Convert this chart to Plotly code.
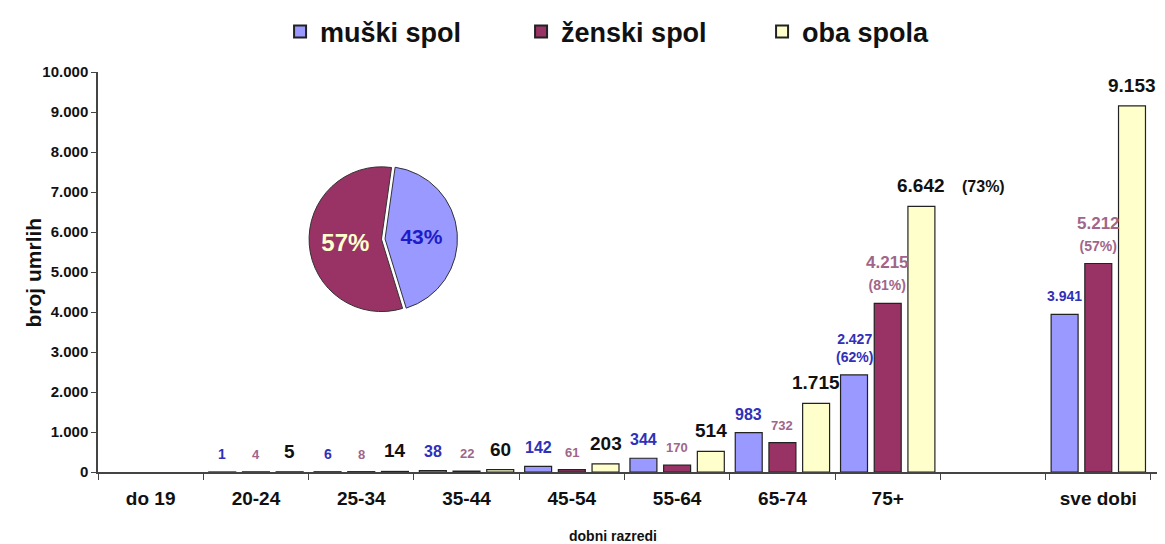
import plotly.graph_objects as go

categories = ["do 19", "20-24", "25-34", "35-44", "45-54", "55-64", "65-74", "75+", " ", "sve dobi"]
male = [None, 1, 6, 38, 142, 344, 983, 2427, None, 3941]
female = [None, 4, 8, 22, 61, 170, 732, 4215, None, 5212]
both = [None, 5, 14, 60, 203, 514, 1715, 6642, None, 9153]
male_pct = {"75+": 62}
female_pct = {"75+": 81, "sve dobi": 57}
both_pct = {"75+": 73}
series_names = ["muški spol", "ženski spol", "oba spola"]
pie_labels = ["muški spol", "ženski spol"]
pie_values = [3941, 5212]

colors = ["#9999FF", "#993366", "#FFFFCC"]
label_colors = ["#3030B8", "#A0668A", "#111111"]
FONT = "Liberation Sans, Arial, sans-serif"

fig = go.Figure()
for name, vals, col in zip(series_names, [male, female, both], colors):
    fig.add_trace(go.Bar(
        x=categories, y=vals, name=name,
        marker=dict(color=col, line=dict(color="#222222", width=1.2)),
    ))

fig.add_trace(go.Pie(
    labels=pie_labels, values=pie_values, sort=False, direction="clockwise",
    rotation=8, pull=[0.05, 0], showlegend=False,
    marker=dict(colors=["#9999FF", "#993366"], line=dict(color="#333333", width=1)),
    textinfo="percent", texttemplate="%{percent:.0%}", textposition="inside",
    insidetextorientation="horizontal",
    textfont=dict(family=FONT, size=[21, 24], color=["#1C1CC8", "#FFFFCC"], weight="bold"),
    domain=dict(x=[0.1924, 0.3424], y=[0.392, 0.772]),
    hoverinfo="skip",
))


def fmt(v):
    return f"{v:,}".replace(",", ".")


offsets = [-0.32, 0.0, 0.32]
annotations = []
for j, (vals, pcts) in enumerate(zip([male, female, both], [male_pct, female_pct, both_pct])):
    for i, (cat, v) in enumerate(zip(categories, vals)):
        if not v:
            continue
        if j == 0:
            size = 16 if 10 <= v < 2000 else 14
        elif j == 1:
            size = 17 if v > 4000 else 13
        else:
            size = 19
        text = fmt(v)
        if cat in pcts and j < 2:
            text += f"<br><span style='font-size:14px'>({pcts[cat]}%)</span>"
        annotations.append(dict(
            x=i + offsets[j], y=v, xref="x", yref="y", text=text,
            showarrow=False, yanchor="bottom", xanchor="center", yshift=8,
            font=dict(family=FONT, size=size, color=label_colors[j], weight="bold"),
        ))
        if cat in pcts and j == 2:
            annotations.append(dict(
                x=i + offsets[j], y=v, xref="x", yref="y", text=f"({pcts[cat]}%)",
                showarrow=False, yanchor="bottom", xanchor="left", xshift=39, yshift=9,
                font=dict(family=FONT, size=16, color=label_colors[j], weight="bold"),
            ))

annotations.append(dict(
    x=-0.0736, y=0.5, xref="paper", yref="paper", text="broj umrlih", textangle=-90,
    showarrow=False, font=dict(family=FONT, size=21, color="#111111", weight="bold"),
))
annotations.append(dict(
    x=0.486, y=-0.16, xref="paper", yref="paper", text="dobni razredi",
    showarrow=False, yanchor="middle",
    font=dict(family=FONT, size=14, color="#111111", weight="bold"),
))

fig.update_layout(
    width=1157, height=536,
    margin=dict(l=90, r=7, t=64, b=72, autoexpand=False),
    paper_bgcolor="white", plot_bgcolor="white",
    separators=",.",
    barmode="group", bargap=0.04, bargroupgap=0.2,
    font=dict(family=FONT, color="#111111"),
    legend=dict(
        orientation="h", x=0.5128, xanchor="center", y=1.1, yanchor="middle",
        font=dict(family=FONT, size=27, color="#111111", weight="bold"),
        entrywidth=196, itemsizing="constant",
    ),
    annotations=annotations,
    xaxis=dict(
        type="category", tickson="boundaries", ticks="outside", ticklen=6,
        tickcolor="#444444", showline=True, linecolor="#444444", linewidth=1.5,
        showgrid=False, tickfont=dict(family=FONT, size=19, color="#111111", weight="bold"),
        ticklabelstandoff=8,
    ),
    yaxis=dict(
        range=[0, 10000], dtick=1000, tickformat=",d", ticks="outside", ticklen=5,
        tickcolor="#444444", showline=True, linecolor="#444444", linewidth=1.5,
        showgrid=False, zeroline=False,
        tickfont=dict(family=FONT, size=15, color="#111111", weight="bold"),
    ),
)

fig.write_html("out.html")
